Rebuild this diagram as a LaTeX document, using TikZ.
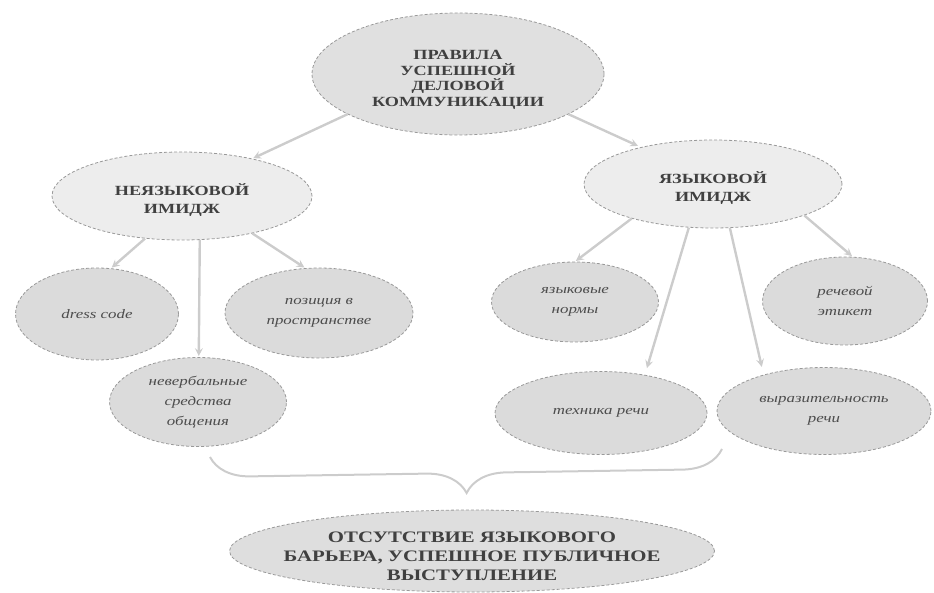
\documentclass[tikz,border=0pt]{standalone}
\usepackage{fontspec}
\setmainfont{Liberation Serif}[FakeStretch=1.3]
\usepackage{tikz}
\usetikzlibrary{arrows, shapes.geometric, decorations.pathreplacing}
\tikzset{
    bubblebox/.style={ellipse, draw=black!40, dash pattern=on 3pt off 2pt, line width=0.8pt, inner sep=0pt},
    root/.style={fill=black!12},
    head/.style={fill=black!7},
    leaf/.style={fill=black!14},
    base/.style={fill=black!13},
    root text/.style={align=center, text=black!75, yshift=-6pt, font=\bfseries\fontsize{14}{15.5}\selectfont},
    head text/.style={align=center, text=black!75, yshift=-4pt, font=\bfseries\fontsize{14}{18}\selectfont},
    leaf text/.style={align=center, text=black!70, font=\itshape\fontsize{13}{20}\selectfont},
    base text/.style={align=center, text=black!75, yshift=-5pt, font=\bfseries\fontsize{16}{19}\selectfont},
    linkline/.style={color=black!20, line width=2.4pt, -stealth, shorten >=1pt},
    braceline/.style={draw=black!20, line width=2pt, decorate, decoration={brace, mirror, amplitude=40pt}}
}
\newcommand{\bubble}[6]{
    \node[bubblebox, #5, minimum width=#3pt, minimum height=#4pt] (#1) at (#2) {};
    \node[#5 text] (#1-t) at (#1.center) {#6};
}

\begin{document}
\begin{tikzpicture}[x=1pt, y=-1pt]
    \useasboundingbox (0,0) rectangle (934,593);
    \bubble{rules}{458,74}{292}{122}{root}{ПРАВИЛА\\УСПЕШНОЙ\\ДЕЛОВОЙ\\КОММУНИКАЦИИ}
    \bubble{nonverb}{182,196}{260}{88}{head}{НЕЯЗЫКОВОЙ\\ИМИДЖ}
    \bubble{verb}{713,184}{258}{88}{head}{ЯЗЫКОВОЙ\\ИМИДЖ}
    \bubble{dress}{97,314}{163}{92}{leaf}{dress code}
    \bubble{space}{319,313}{188}{90}{leaf}{позиция в\\пространстве}
    \bubble{gesture}{198,402}{177}{89}{leaf}{невербальные\\средства\\общения}
    \bubble{norms}{575,302}{167}{80}{leaf}{языковые\\нормы}
    \bubble{etiquette}{845,301}{165}{88}{leaf}{речевой\\этикет}
    \bubble{technique}{601,413}{212}{83}{leaf}{техника речи}
    \bubble{express}{824,411}{214}{87}{leaf}{выразительность\\речи}
    \bubble{result}{472,551}{485}{82}{base}{ОТСУТСТВИЕ ЯЗЫКОВОГО\\БАРЬЕРА, УСПЕШНОЕ ПУБЛИЧНОЕ\\ВЫСТУПЛЕНИЕ}
    \coordinate (brace-l) at (210,457);
    \coordinate (brace-r) at (722,449);
    \path
    (rules.200) edge[linkline] (nonverb.28)
    (rules.-20) edge[linkline, shorten >=3pt] (verb.153)
    (nonverb.229) edge[linkline] (dress.73)
    (nonverb.292) edge[linkline] (gesture.89)
    (nonverb.-28) edge[linkline] (space.107)
    (verb.203) edge[linkline] (norms.90)
    (verb.241) edge[linkline, shorten >=7pt] (technique.41)
    (verb.291) edge[linkline, shorten >=8pt] (express.149)
    (verb.-19) edge[linkline] (etiquette.80);
    \draw[braceline] (brace-l) -- (brace-r);
\end{tikzpicture}
\end{document}
